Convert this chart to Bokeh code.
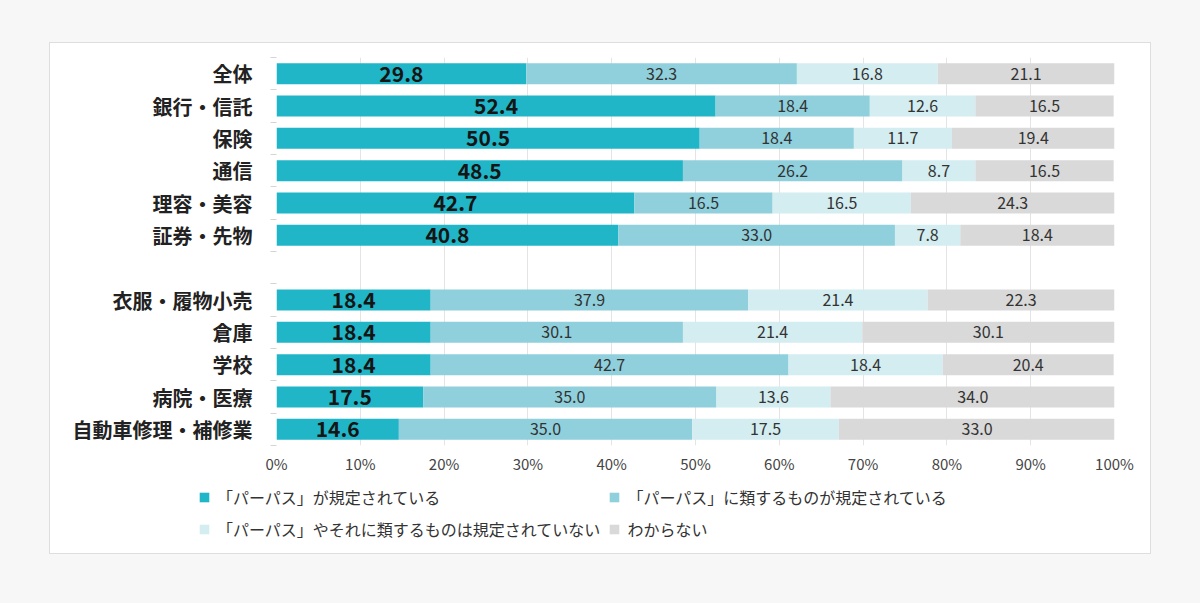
from bokeh.plotting import figure
from bokeh.models import (ColumnDataSource, Range1d, FixedTicker, PrintfTickFormatter,
                          Legend, LegendItem)
from bokeh.layouts import column
from bokeh.embed import file_html
from bokeh.resources import INLINE
from bokeh.core.properties import value

# --- data -----------------------------------------------------------------
group_top = ["全体", "銀行・信託", "保険", "通信", "理容・美容", "証券・先物"]
group_bottom = ["衣服・履物小売", "倉庫", "学校", "病院・医療", "自動車修理・補修業"]

defined = [29.8, 52.4, 50.5, 48.5, 42.7, 40.8,
           18.4, 18.4, 18.4, 17.5, 14.6]
similar_defined = [32.3, 18.4, 18.4, 26.2, 16.5, 33.0,
                   37.9, 30.1, 42.7, 35.0, 35.0]
not_defined = [16.8, 12.6, 11.7, 8.7, 16.5, 7.8,
               21.4, 21.4, 18.4, 13.6, 17.5]
unknown = [21.1, 16.5, 19.4, 16.5, 24.3, 18.4,
           22.3, 30.1, 20.4, 34.0, 33.0]

series_names = ["「パーパス」が規定されている",
                "「パーパス」に類するものが規定されている",
                "「パーパス」やそれに類するものは規定されていない",
                "わからない"]
x_ticks = [0, 10, 20, 30, 40, 50, 60, 70, 80, 90, 100]

# --- styling --------------------------------------------------------------
FONT = "Noto Sans CJK JP"
colors = ["#21b5c8", "#8fd0dc", "#d4edf1", "#d9d9d9"]
keys = ["defined", "similar", "none", "unknown"]

categories = group_top + group_bottom
# one empty slot separates the two groups
positions = list(range(len(group_top))) + \
    [len(group_top) + 1 + i for i in range(len(group_bottom))]
n_slots = len(group_top) + 1 + len(group_bottom)

src = ColumnDataSource(dict(pos=positions, cat=categories,
                            defined=defined, similar=similar_defined,
                            none=not_defined, unknown=unknown))

p = figure(width=1100, height=440,
           x_range=Range1d(0, 100), y_range=Range1d(n_slots - 0.5, -0.5),
           output_backend="svg", toolbar_location=None,
           min_border_left=226, min_border_right=36,
           min_border_top=14, min_border_bottom=38,
           background_fill_color="white", border_fill_color="white",
           outline_line_color=None)
p.frame_align = False

p.hbar_stack(keys, y="pos", height=0.65, color=colors,
             line_color=None, source=src)

# segment labels, centred in each stacked segment
series_vals = [defined, similar_defined, not_defined, unknown]
lefts = [0.0] * len(categories)
for k, vals in enumerate(series_vals):
    xs = [l + v / 2 for l, v in zip(lefts, vals)]
    lab = ColumnDataSource(dict(x=xs, y=positions, t=["%.1f" % v for v in vals]))
    if k == 0:
        p.text(x="x", y="y", text="t", source=lab, text_align="center",
               text_baseline="middle", text_font=value(FONT),
               text_font_size="21px", text_font_style="bold", text_color="#151515")
    else:
        p.text(x="x", y="y", text="t", source=lab, text_align="center",
               text_baseline="middle", text_font=value(FONT),
               text_font_size="16px", text_color="#333333")
    lefts = [l + v for l, v in zip(lefts, vals)]

# x axis
p.xaxis.ticker = FixedTicker(ticks=x_ticks)
p.xaxis.formatter = PrintfTickFormatter(format="%d%%")
p.xaxis.axis_line_color = None
p.xaxis.major_tick_line_color = None
p.xaxis.minor_tick_line_color = None
p.xaxis.major_tick_out = 0
p.xaxis.major_tick_in = 0
p.xaxis.major_label_standoff = 7
p.xaxis.major_label_text_font = FONT
p.xaxis.major_label_text_font_size = "15px"
p.xaxis.major_label_text_color = "#444444"

p.xgrid.ticker = FixedTicker(ticks=x_ticks)
p.xgrid.grid_line_color = "#e4e4e4"
p.ygrid.grid_line_color = None

# y axis: labels at row centres, small ticks at row boundaries
p.yaxis.ticker = FixedTicker(ticks=positions,
                             minor_ticks=[i - 0.5 for i in range(n_slots + 1)])
p.yaxis.major_label_overrides = {pos: c for pos, c in zip(positions, categories)}
p.yaxis.axis_line_color = None
p.yaxis.major_tick_line_color = None
p.yaxis.major_tick_out = 0
p.yaxis.minor_tick_line_color = "#d4d4d4"
p.yaxis.minor_tick_out = 6
p.yaxis.minor_tick_in = 0
p.yaxis.major_label_standoff = 18
p.yaxis.major_label_text_font = FONT
p.yaxis.major_label_text_font_size = "20px"
p.yaxis.major_label_text_font_style = "bold"
p.yaxis.major_label_text_color = "#222222"

# legend strip below the chart
pl = figure(width=1100, height=70, x_range=Range1d(0, 1), y_range=Range1d(0, 1),
            output_backend="svg", toolbar_location=None, min_border=0,
            background_fill_color="white", border_fill_color="white",
            outline_line_color=None)
pl.frame_align = False
pl.axis.visible = False
pl.grid.visible = False
# zero-width bars: they only supply the legend swatches
swatch_src = ColumnDataSource(dict(y=[0.5], left=[0.0], right=[0.0]))
swatches = [pl.hbar(y="y", left="left", right="right", height=0.1, color=c,
                    line_color=None, source=swatch_src) for c in colors]
legend = Legend(items=[LegendItem(label=n, renderers=[r])
                       for n, r in zip(series_names, swatches)],
                location=(148, 12), orientation="horizontal", ncols=2,
                glyph_width=12, glyph_height=12, label_standoff=7,
                label_height=22, label_width=370, spacing=8,
                padding=0, margin=0,
                label_text_font=FONT, label_text_font_size="16px",
                label_text_color="#333333",
                border_line_color=None, background_fill_alpha=0)
pl.add_layout(legend, "center")

panel = column(p, pl, spacing=0, margin=(43, 0, 0, 50),
               styles={"background-color": "white",
                       "box-shadow": "0 0 0 1px #dedede"})
root = column(panel, width=1200, height=603,
              styles={"background-color": "#f7f7f7"})

open("out.html", "w").write(file_html(root, INLINE))
